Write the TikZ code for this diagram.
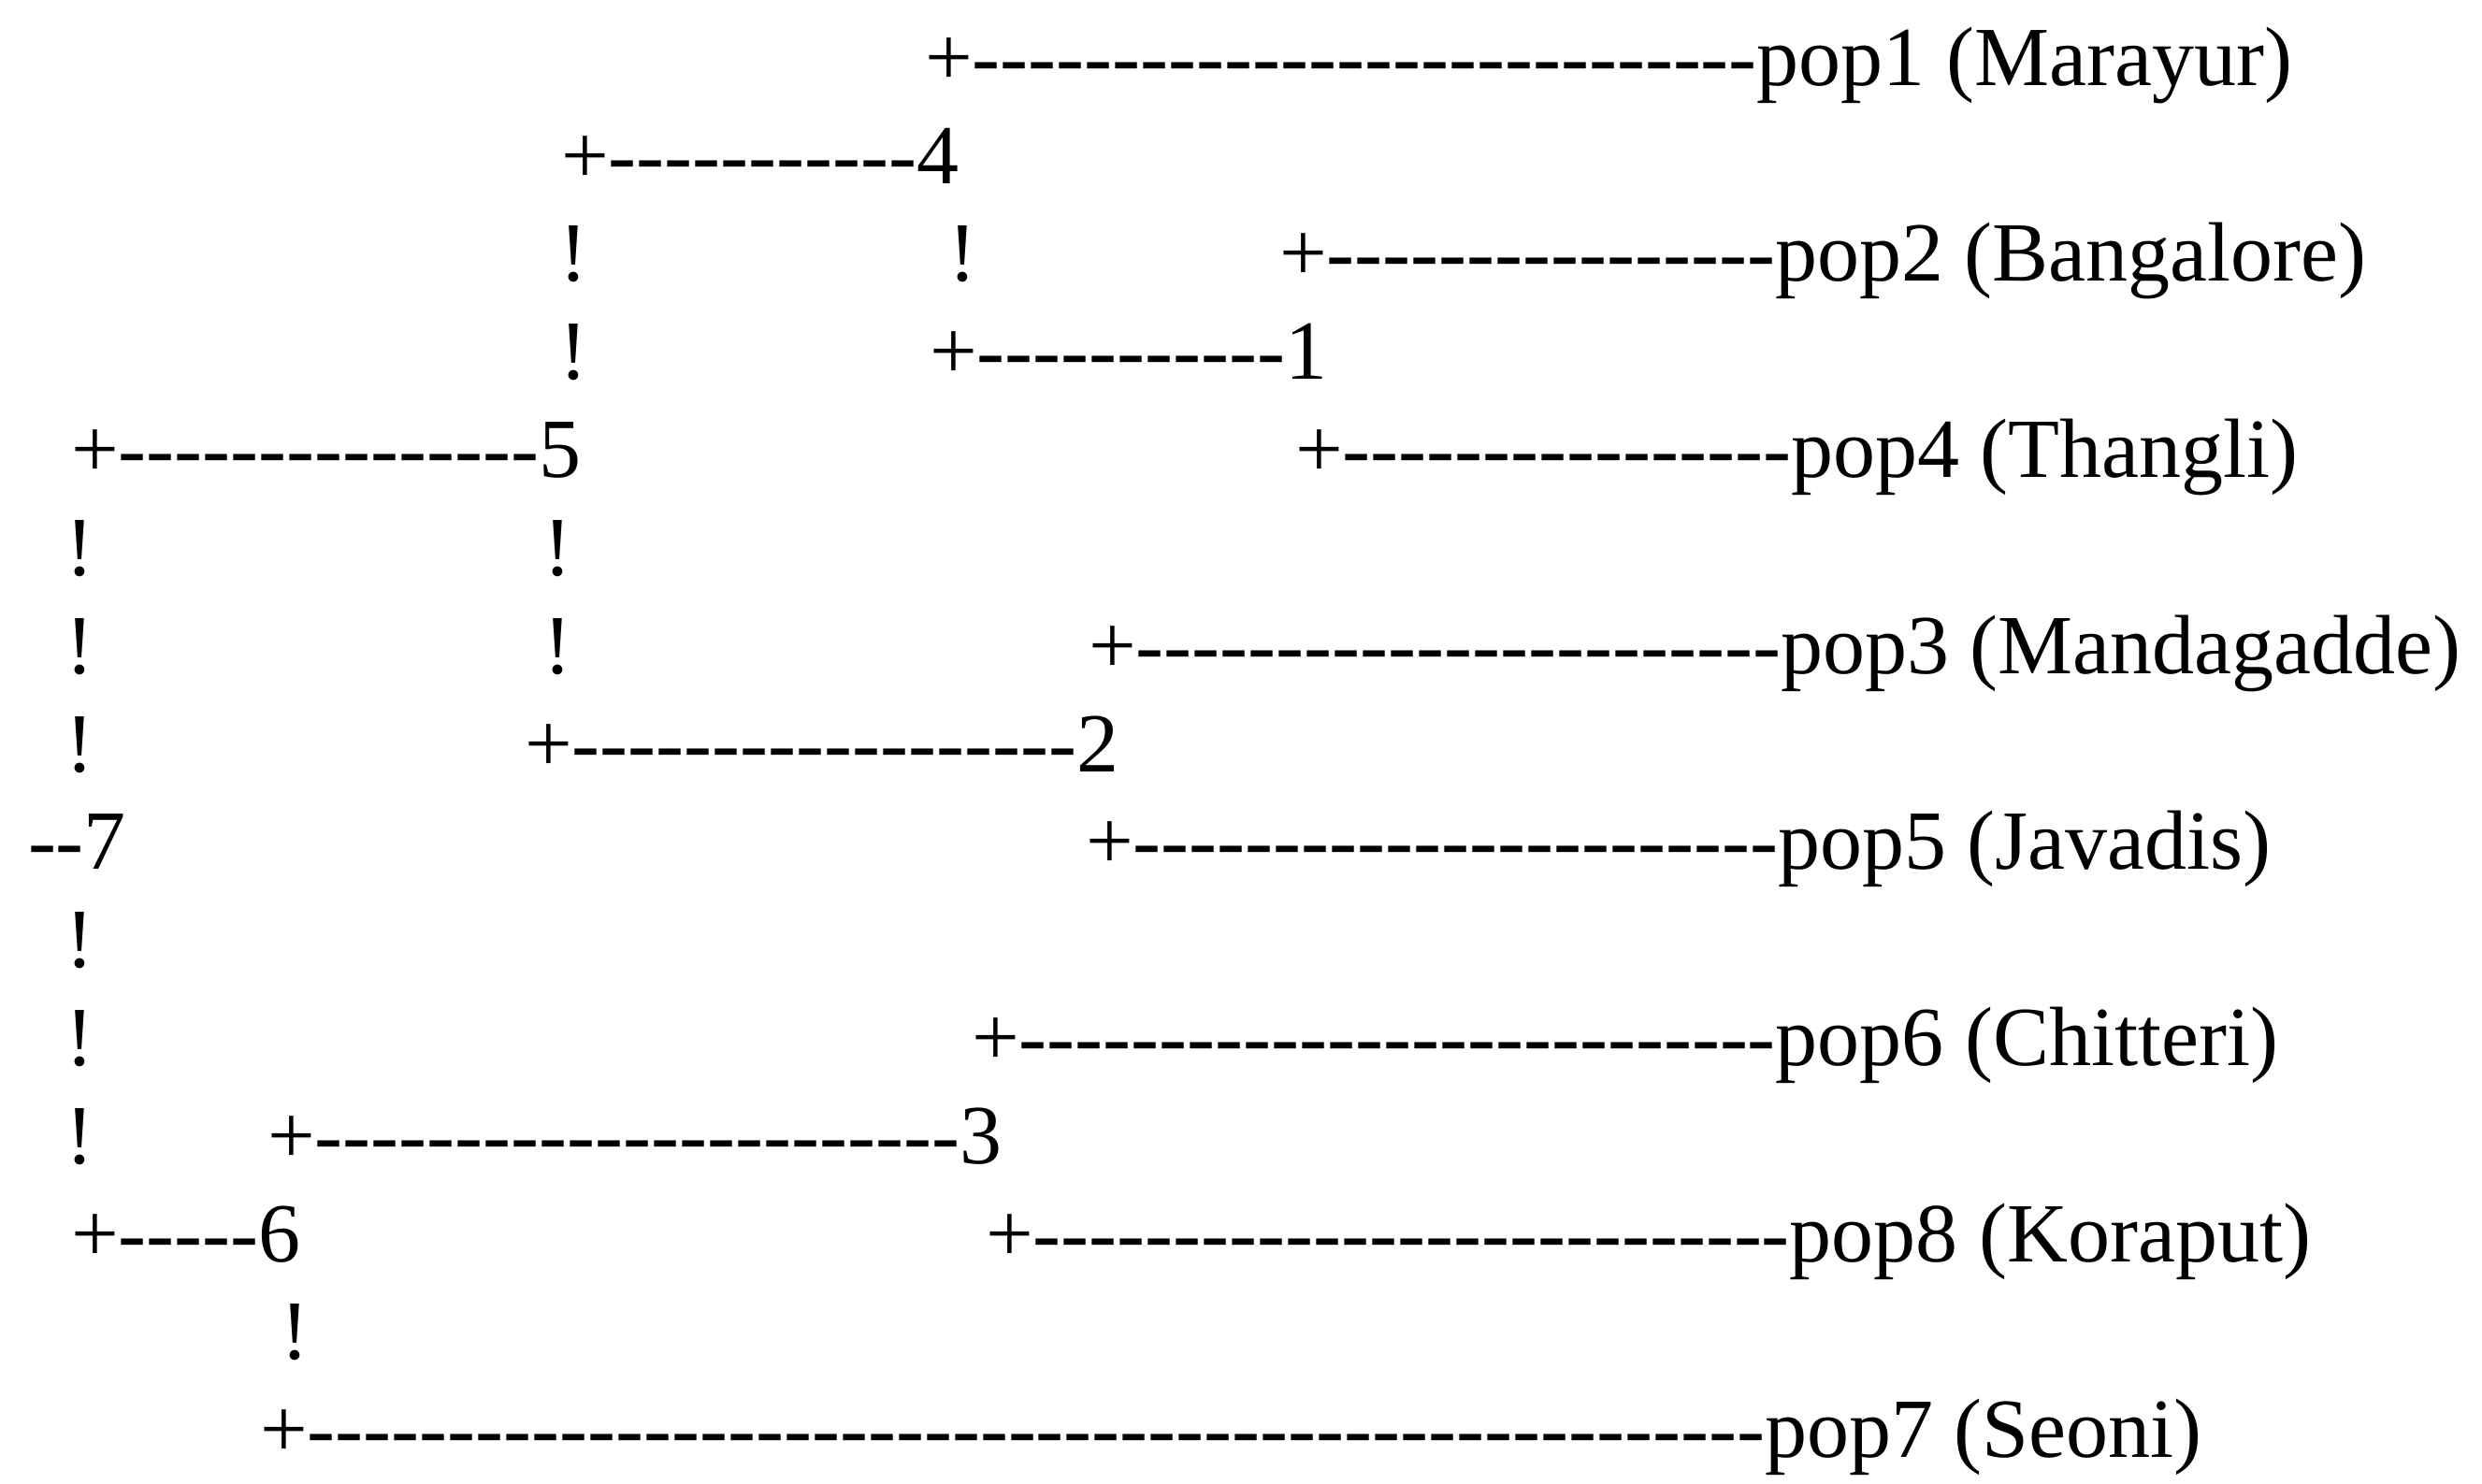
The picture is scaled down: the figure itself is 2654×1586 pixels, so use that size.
\documentclass[tikz,border=0pt]{standalone}
\usepackage{fontspec}
\newfontfamily\treefont{Liberation Serif}[Ligatures=TeXOff]
\begin{document}
\begin{tikzpicture}[x=0.5pt,y=-0.5pt,
  t/.style={anchor=base west,inner sep=0pt,outer sep=0pt,font=\treefont\fontsize{45}{54}\selectfont},
  bang/.style={anchor=base,inner sep=0pt,outer sep=0pt,font=\treefont\fontsize{45}{54}\selectfont}]
\useasboundingbox (0,0) rectangle (2654,1586);
% row 1
\node[t] (r1) at (989,91) {+----------------------------pop1 (Marayur)};
% row 2
\node[t] (r2) at (600,196) {+-----------4};
% row 3
\node[bang] (r3a) at (613,300) {!};
\node[bang] (r3b) at (1029,300) {!};
\node[t] (r3c) at (1368,300) {+----------------pop2 (Bangalore)};
% row 4
\node[bang] (r4a) at (613,405) {!};
\node[t] (r4b) at (994,405) {+-----------1};
% row 5
\node[t] (r5a) at (76,510) {+---------------5};
\node[t] (r5b) at (1385,510) {+----------------pop4 (Thangli)};
% row 6
\node[bang] (r6a) at (85,615) {!};
\node[bang] (r6b) at (596,615) {!};
% row 7
\node[bang] (r7a) at (85,720) {!};
\node[bang] (r7b) at (596,720) {!};
\node[t] (r7c) at (1164,720) {+-----------------------pop3 (Mandagadde)};
% row 8
\node[bang] (r8a) at (85,825) {!};
\node[t] (r8b) at (561,825) {+------------------2};
% row 9
\node[t] (r9a) at (30,929) {--7};
\node[t] (r9b) at (1161,929) {+-----------------------pop5 (Javadis)};
% row 10
\node[bang] (r10a) at (85,1034) {!};
% row 11
\node[bang] (r11a) at (85,1139) {!};
\node[t] (r11b) at (1039,1139) {+---------------------------pop6 (Chitteri)};
% row 12
\node[bang] (r12a) at (85,1244) {!};
\node[t] (r12b) at (286,1244) {+-----------------------3};
% row 13
\node[t] (r13a) at (76,1349) {+-----6};
\node[t] (r13b) at (1054,1349) {+---------------------------pop8 (Koraput)};
% row 14
\node[bang] (r14a) at (315,1453) {!};
% row 15
\node[t] (r15) at (278,1558) {+----------------------------------------------------pop7 (Seoni)};
\end{tikzpicture}
\end{document}
